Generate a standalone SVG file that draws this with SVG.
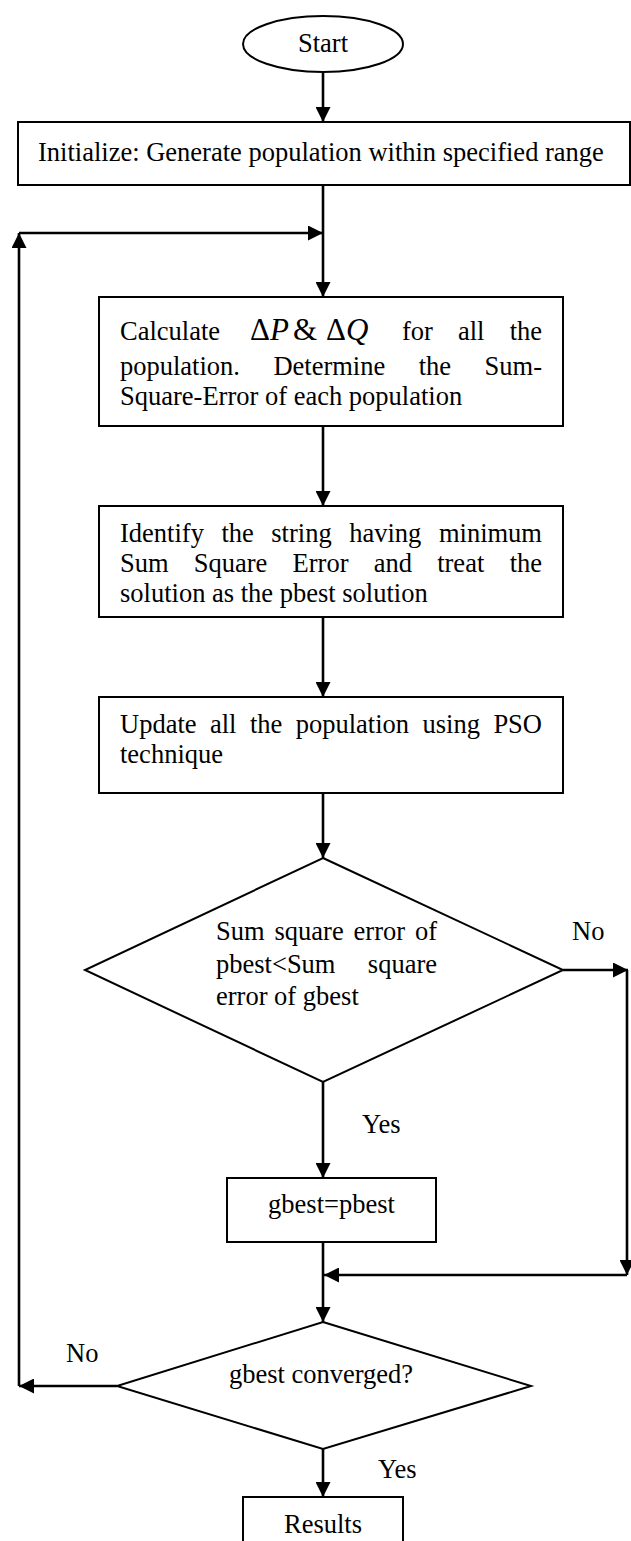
<svg xmlns="http://www.w3.org/2000/svg" width="631" height="1541" viewBox="0 0 631 1541">
  <style>
    .shape { fill: #fff; stroke: #000; stroke-width: 2; }
    .t { font-family: "Liberation Serif", "Times New Roman", serif; font-size: 26.5px; fill: #000; }
    .m { font-family: "Liberation Serif", "Times New Roman", serif; font-size: 31px; fill: #000; }
    .edge { fill: none; stroke: #000; stroke-width: 2.6; }
  </style>
  <defs>
    <marker id="arrow" viewBox="0 0 15 15" refX="15" refY="7.5" markerWidth="15" markerHeight="15" markerUnits="userSpaceOnUse" orient="auto">
      <path d="M0,0 L15,7.5 L0,15 z" fill="#000"/>
    </marker>
  </defs>
  <rect width="631" height="1541" fill="#fff"/>

  <g id="connectors">
    <line class="edge" x1="323" y1="72" x2="323" y2="122" marker-end="url(#arrow)"/>
    <line class="edge" x1="323" y1="185" x2="323" y2="297" marker-end="url(#arrow)"/>
    <line class="edge" x1="323" y1="426" x2="323" y2="506" marker-end="url(#arrow)"/>
    <line class="edge" x1="323" y1="617" x2="323" y2="697" marker-end="url(#arrow)"/>
    <line class="edge" x1="323" y1="793" x2="323" y2="858" marker-end="url(#arrow)"/>
    <line class="edge" x1="323" y1="1082" x2="323" y2="1178" marker-end="url(#arrow)"/>
    <!-- No branch of the first decision -->
    <line class="edge" x1="563" y1="970" x2="628" y2="970" marker-end="url(#arrow)"/>
    <line class="edge" x1="627" y1="970" x2="627" y2="1275" marker-end="url(#arrow)"/>
    <line class="edge" x1="627" y1="1275" x2="324" y2="1275" marker-end="url(#arrow)"/>
    <line class="edge" x1="323" y1="1242" x2="323" y2="1322" marker-end="url(#arrow)"/>
    <!-- loop back from the convergence test -->
    <line class="edge" x1="117" y1="1386" x2="19" y2="1386" marker-end="url(#arrow)"/>
    <line class="edge" x1="19" y1="1386" x2="19" y2="233" marker-end="url(#arrow)"/>
    <line class="edge" x1="19" y1="233" x2="323" y2="233" marker-end="url(#arrow)"/>
    <line class="edge" x1="323" y1="1449" x2="323" y2="1497" marker-end="url(#arrow)"/>
  </g>

  <g id="start">
    <ellipse class="shape" cx="323" cy="44" rx="80" ry="28"/>
    <text class="t" x="323" y="52" text-anchor="middle">Start</text>
  </g>

  <g id="initialize">
    <rect class="shape" x="18" y="122" width="612" height="63"/>
    <text class="t" x="38" y="161">Initialize: Generate population within specified range</text>
  </g>

  <g id="calculate">
    <rect class="shape" x="99" y="297" width="464" height="129"/>
    <text class="t" y="340"><tspan x="120">Calculate</tspan><tspan x="402">for</tspan><tspan x="458">all</tspan><tspan x="542" text-anchor="end">the</tspan></text>
    <text class="m" y="340"><tspan x="250">Δ</tspan><tspan font-style="italic">P</tspan><tspan x="293">&amp;</tspan><tspan x="326">Δ</tspan><tspan font-style="italic">Q</tspan></text>
    <text class="t" y="375"><tspan x="120">population.</tspan><tspan x="273.4">Determine</tspan><tspan x="418.7">the</tspan><tspan x="542" text-anchor="end">Sum-</tspan></text>
    <text class="t" x="120" y="405">Square-Error of each population</text>
  </g>

  <g id="identify">
    <rect class="shape" x="99" y="506" width="464" height="111"/>
    <text class="t" y="542"><tspan x="120">Identify</tspan><tspan x="221.4">the</tspan><tspan x="271.3">string</tspan><tspan x="349.2">having</tspan><tspan x="542" text-anchor="end">minimum</tspan></text>
    <text class="t" y="572"><tspan x="120">Sum</tspan><tspan x="193.8">Square</tspan><tspan x="292.6">Error</tspan><tspan x="373.7">and</tspan><tspan x="437.2">treat</tspan><tspan x="542" text-anchor="end">the</tspan></text>
    <text class="t" x="120" y="602">solution as the pbest solution</text>
  </g>

  <g id="update">
    <rect class="shape" x="99" y="697" width="464" height="96"/>
    <text class="t" y="733"><tspan x="120">Update</tspan><tspan x="209.9">all</tspan><tspan x="249.9">the</tspan><tspan x="295.7">population</tspan><tspan x="422.5">using</tspan><tspan x="542" text-anchor="end">PSO</tspan></text>
    <text class="t" x="120" y="763">technique</text>
  </g>

  <g id="compare">
    <polygon class="shape" points="323,858 563,970 323,1082 85,970"/>
    <text class="t" y="940"><tspan x="216">Sum</tspan><tspan x="274.5">square</tspan><tspan x="353.6">error</tspan><tspan x="437" text-anchor="end">of</tspan></text>
    <text class="t" y="973"><tspan x="216">pbest&lt;Sum</tspan><tspan x="437" text-anchor="end">square</tspan></text>
    <text class="t" x="216" y="1005">error of gbest</text>
  </g>

  <g id="update-gbest">
    <rect class="shape" x="227" y="1178" width="209" height="64"/>
    <text class="t" x="331.5" y="1213" text-anchor="middle">gbest=pbest</text>
  </g>

  <g id="converged">
    <polygon class="shape" points="323,1322 531,1386 323,1449 117,1386"/>
    <text class="t" x="321" y="1383" text-anchor="middle">gbest converged?</text>
  </g>

  <g id="results">
    <rect class="shape" x="243" y="1497" width="160" height="60"/>
    <text class="t" x="323" y="1533" text-anchor="middle">Results</text>
  </g>

  <g id="labels">
    <text class="t" x="572" y="940">No</text>
    <text class="t" x="362" y="1133">Yes</text>
    <text class="t" x="66" y="1362">No</text>
    <text class="t" x="378" y="1478">Yes</text>
  </g>
</svg>
